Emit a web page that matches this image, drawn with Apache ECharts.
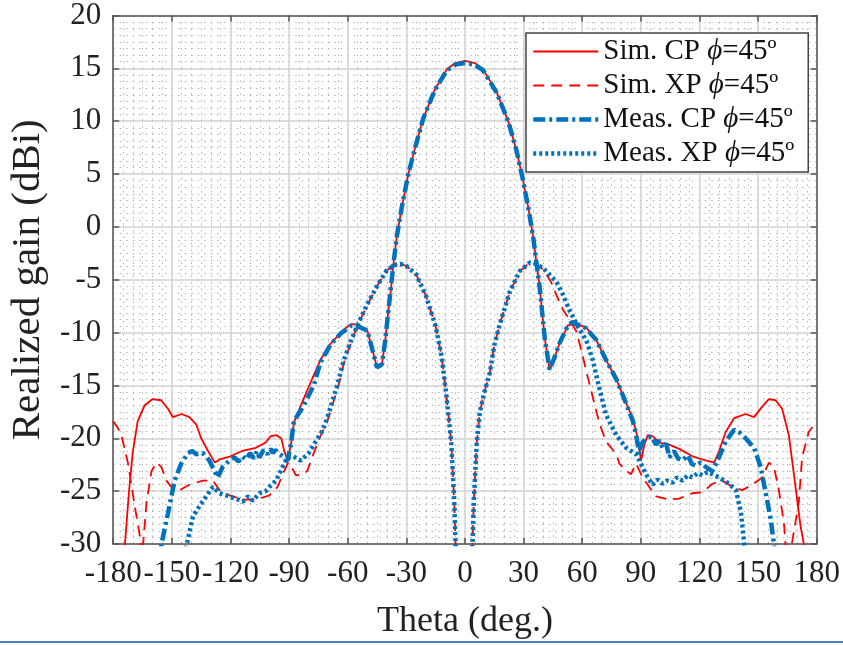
<!DOCTYPE html>
<html>
<head>
<meta charset="utf-8">
<script src="https://cdn.jsdelivr.net/npm/echarts@6/dist/echarts.min.js"></script>
<style>
  html, body { margin: 0; padding: 0; background: #fff; }
  #chart { width: 843px; height: 645px; }
</style>
</head>
<body>
<div id="chart"></div>
<script>
// Sim. CP (red solid)
var simCpTheta = [-180, -176, -174, -172, -170, -167.5, -164, -160, -155.5, -152, -149.5, -145, -141, -137.5, -135, -131.5, -128, -125.5, -120, -114, -107, -102, -99.5, -96.5, -94, -92.5, -90.8, -89, -87.5, -84, -79, -74, -69, -64, -60, -57.5, -54, -50, -47, -45, -42.5, -40.8, -39, -38, -36.5, -34.8, -32.3, -29, -25.5, -21.3, -15.3, -9.3, -5, 0, 5, 9.3, 16.2, 22.1, 26.4, 29.7, 32.3, 34.8, 36.5, 38.2, 40.8, 43.3, 45.5, 48.4, 52.7, 57, 62, 67.2, 72.2, 77.4, 81.6, 85.8, 88.4, 90.1, 91.8, 93.5, 96, 99.4, 104.5, 109.6, 116.4, 123.2, 127.5, 130, 133.4, 137.7, 143.6, 147.9, 152.1, 155.5, 158.9, 162.3, 165.7, 168.3, 171.7, 173.4, 176, 180];
var simCpGain = [-40, -34, -30, -25.2, -21.3, -18.4, -16.9, -16.3, -16.4, -17.2, -18, -17.7, -18, -18.7, -20, -21.2, -22.3, -22, -21.7, -21.2, -20.9, -20.4, -19.8, -19.7, -20, -21.2, -22.1, -20.5, -18.5, -16.9, -14.7, -12.6, -11.1, -10.1, -9.4, -9.2, -9.3, -9.8, -11.9, -13.3, -13, -10.7, -7.6, -6.1, -3.3, -0.8, 1.9, 5.0, 7.5, 10.3, 13.05, 14.9, 15.5, 15.7, 15.5, 14.9, 12.75, 10.0, 7.2, 4.4, 1.9, -0.8, -3.3, -5.7, -10.5, -13.5, -12.6, -11.0, -9.3, -9.2, -9.5, -10.7, -12.6, -14.4, -16.3, -18.1, -20, -22.1, -20.6, -19.7, -19.8, -20.4, -20.6, -21.0, -21.7, -22.1, -22.3, -21.2, -19.4, -18.1, -17.7, -18.0, -17.0, -16.3, -16.4, -17.2, -19.7, -23.4, -28.3, -30, -35, -40];

// Sim. XP (red dashed)
var simXpTheta = [-180, -178, -175.8, -172.4, -169, -166.4, -165.5, -164.7, -163, -160.4, -157.9, -155.4, -152.8, -150.3, -146, -141, -134.2, -129, -125.6, -120.5, -113.7, -106.9, -100.1, -95.9, -92.5, -90.5, -88.5, -86.5, -83, -80.7, -77.4, -74, -70.5, -65, -62, -58.6, -55, -50, -45, -40, -36, -33, -30, -25, -20, -15, -12, -9.3, -7, -5.5, -4.5, 3.5, 4.5, 6, 7.6, 10, 12.7, 15, 17.8, 23, 28, 33, 36, 40, 44, 46.7, 50, 54, 57, 60, 62, 65.4, 68.8, 72.2, 77.4, 79, 82, 85, 87.5, 90.9, 94.3, 97.8, 104.5, 109.6, 116.4, 121.5, 126.6, 131.7, 136.8, 141.9, 147, 152.1, 155.5, 158.1, 160.6, 163.2, 164, 165.5, 167.4, 170.8, 172.5, 175.9, 180];
var simXpGain = [-18.4, -18.9, -19.7, -22.4, -26.4, -29.2, -31, -30, -26.1, -23.1, -22.3, -22.7, -24, -24.6, -24.9, -24.4, -24, -24, -24.9, -25.4, -25.8, -25.8, -25.4, -24.6, -23.1, -22.3, -22.8, -23.5, -23.4, -23.1, -21.4, -19.8, -18.4, -15.2, -12.9, -11.1, -9.3, -7.4, -5.6, -4.1, -3.6, -3.5, -3.7, -4.5, -6.5, -9.4, -12.2, -16.3, -20.5, -26, -32, -32, -26, -20.5, -17.5, -15.6, -13.8, -11.2, -9.2, -6.1, -4.2, -3.4, -3.5, -4.0, -5.2, -6.4, -7.8, -8.9, -9.9, -12, -13.6, -16.1, -18.6, -20.3, -21.5, -22.4, -23.0, -23.4, -22.4, -23.7, -24.6, -25.5, -25.8, -25.7, -25.2, -25.1, -24.3, -24.0, -24.6, -24.9, -24.4, -23.7, -22.3, -22.7, -24.9, -28, -30, -31.5, -29.8, -26.1, -21.8, -19.4, -18.4];

// Meas. CP (blue dash-dot)
var measCpTheta = [-157, -155.3, -152, -148.6, -145.2, -141.8, -139.5, -137.6, -134.2, -130.8, -128.2, -126.5, -124, -120.5, -118, -116, -114, -112, -110, -108, -106.5, -105.2, -103, -101, -99.5, -98.4, -97, -95.5, -93.3, -90.8, -89, -87.6, -82.5, -77.4, -73.9, -69, -63.7, -58, -55, -50, -47, -45, -42.5, -40.8, -39, -36.5, -34.8, -32.3, -29, -25.5, -21.3, -15.3, -9.3, -5, 0, 5, 9.3, 16.2, 22.1, 26.4, 29.7, 32.3, 34.8, 36.5, 38.2, 40.8, 43.3, 45.5, 48.4, 52.7, 55, 57, 59, 62, 67.2, 72.2, 77.4, 81.6, 85.8, 87.5, 89.2, 90.1, 92.6, 95.2, 97.8, 99.5, 101.1, 103, 104.5, 107, 109, 111.3, 114, 116, 118.1, 120.5, 123.2, 126.6, 130, 133.4, 137.7, 140.2, 143.6, 147.9, 151.3, 153.9, 156.4, 158.1, 160];
var measCpGain = [-34, -30, -27.1, -24, -22.4, -21.4, -21.2, -21.5, -21.4, -22.1, -23.1, -23.7, -22.7, -22.1, -21.8, -22.2, -21.7, -22, -21.4, -21.9, -21.2, -21.8, -21.1, -21.5, -21.0, -21.4, -21.1, -21.4, -21.7, -22.1, -20.5, -18.4, -16.9, -15.0, -12.8, -11.2, -10.1, -9.3, -9.4, -9.8, -11.9, -13.3, -13, -10.7, -7.6, -3.3, -0.8, 1.9, 5.0, 7.5, 10.3, 13.0, 14.8, 15.35, 15.5, 15.35, 14.8, 12.7, 10.0, 7.2, 4.4, 1.9, -0.8, -3.3, -5.7, -10.5, -13.5, -12.5, -11.0, -9.3, -9.0, -9.2, -9.3, -9.6, -10.7, -12.6, -14.4, -16.3, -18.3, -19.6, -21.5, -20.6, -20, -19.8, -20.6, -20.2, -20.9, -20.5, -21.8, -21.2, -21.9, -22.1, -21.6, -22.4, -22.6, -22.3, -22.7, -23.1, -21.8, -20.3, -19.2, -19.4, -20, -20.9, -22.7, -25.2, -27.6, -30, -34];

// Meas. XP (blue dotted)
var measXpTheta = [-143.5, -142.3, -139.2, -135.8, -132.4, -129, -125.6, -120.5, -116, -113.7, -111, -108.6, -105.2, -102, -100.1, -96.7, -93.3, -90.8, -88, -84, -80, -77.4, -73, -70.5, -65.4, -62, -58.6, -55, -50, -45, -40, -36, -33, -30, -25, -20, -15, -12, -9.3, -7, -5.5, -4.5, 3.5, 4.5, 6, 7.6, 10, 12.7, 15, 17.8, 23, 28, 33, 36, 40, 46.8, 50.1, 53.5, 55.2, 58, 62, 65.4, 68.8, 72.2, 77.4, 82.5, 87.5, 89.2, 92.6, 96, 98.5, 101.1, 103.5, 106.2, 108.5, 111.3, 114, 116.4, 119, 121.5, 124, 126.6, 130, 135.1, 138.6, 141.2, 142.9, 144];
var measXpGain = [-31, -30, -27.4, -26.4, -25.5, -24.6, -25.2, -25.5, -25.8, -26.0, -25.5, -25.9, -25.2, -25.0, -24.6, -24, -22.7, -21.8, -21.7, -22.1, -21.4, -20.6, -19.3, -18.1, -15.0, -12.6, -10.9, -9.3, -7.3, -5.6, -4.1, -3.6, -3.5, -3.7, -4.5, -6.5, -9.4, -12.2, -16.3, -20.5, -26, -32, -32, -26, -20.5, -17.5, -15.6, -13.8, -11.2, -9.2, -6.1, -4.2, -3.4, -3.5, -3.9, -5.2, -6.4, -7.9, -8.5, -9.5, -10.7, -12.6, -15.3, -17.8, -19.7, -20.9, -21.5, -22.1, -23.4, -24.4, -23.9, -24.3, -24.0, -24.2, -23.7, -24, -23.5, -23.7, -23.3, -23.5, -23.2, -23.4, -23.7, -24.3, -24.9, -27, -30, -32];

var seriesNames = ['Sim. CP', 'Sim. XP', 'Meas. CP', 'Meas. XP'];
var thetaTicks = [-180, -150, -120, -90, -60, -30, 0, 30, 60, 90, 120, 150, 180];
var gainTicks = [-30, -25, -20, -15, -10, -5, 0, 5, 10, 15, 20];

function pairs(xs, ys) {
  var out = [];
  for (var i = 0; i < xs.length; i++) out.push([xs[i], ys[i]]);
  return out;
}

var red = '#ff0000';
var blue = '#0072bd';
var serif = '"Liberation Serif", "Times New Roman", serif';

// line look per series, shared by the plot and the legend
var looks = [
  {color: red, width: 1.8, type: 'solid'},
  {color: red, width: 1.8, type: [11, 7]},
  {color: blue, width: 4.5, type: [12, 4, 3, 4]},
  {color: blue, width: 4.5, type: [3, 3]}
];

var chart = echarts.init(document.getElementById('chart'), null, {renderer: 'canvas'});

var boxAxisX = {
  type: 'value', min: -180, max: 180, interval: 30, position: 'top',
  axisLine: {show: true, onZero: false, lineStyle: {color: '#555', width: 1.5}},
  axisTick: {show: true, inside: true, length: 6, lineStyle: {color: '#555', width: 1.5}},
  axisLabel: {show: false},
  splitLine: {show: false}
};
var boxAxisY = {
  type: 'value', min: -30, max: 20, interval: 5, position: 'right',
  axisLine: {show: true, onZero: false, lineStyle: {color: '#555', width: 1.5}},
  axisTick: {show: true, inside: true, length: 6, lineStyle: {color: '#555', width: 1.5}},
  axisLabel: {show: false},
  splitLine: {show: false}
};

chart.setOption({
  animation: false,
  backgroundColor: '#fff',
  grid: {left: 112, right: 25, top: 15, bottom: 90, containLabel: false},
  legend: {
    orient: 'vertical',
    left: 526,
    top: 33,
    data: seriesNames.map(function (n, i) {
      return {name: n, lineStyle: looks[i]};
    }),
    itemWidth: 65,
    itemHeight: 14,
    itemGap: 5,
    padding: [4, 14, 4, 5],
    backgroundColor: '#fff',
    borderColor: '#444',
    borderWidth: 1.5,
    itemStyle: {opacity: 0},
    z: 10,
    formatter: function (name) {
      return '{t|' + name + ' }{p|ϕ}{t|=45º}';
    },
    textStyle: {
      color: '#111',
      rich: {
        t: {fontFamily: serif, fontSize: 29, lineHeight: 30, color: '#111'},
        p: {fontFamily: serif, fontSize: 29, lineHeight: 30, fontStyle: 'italic', color: '#111'}
      }
    }
  },
  xAxis: [{
    type: 'value', min: -180, max: 180, interval: 30,
    name: 'Theta (deg.)', nameLocation: 'middle', nameGap: 60,
    nameTextStyle: {fontFamily: serif, fontSize: 36, color: '#222'},
    axisLine: {show: true, onZero: false, lineStyle: {color: '#555', width: 1.5}},
    axisTick: {show: true, inside: true, length: 6, lineStyle: {color: '#555', width: 1.5}},
    axisLabel: {
      fontFamily: serif, fontSize: 31, color: '#222', margin: 14,
      formatter: function (v) { return thetaTicks.indexOf(v) >= 0 ? String(v) : ''; }
    },
    splitLine: {show: true, lineStyle: {color: '#d2d2d2', width: 1.5}},
    minorTick: {show: false, splitNumber: 6},
    minorSplitLine: {show: true, lineStyle: {color: '#b3b3b3', width: 1, type: [1.5, 5]}}
  }, boxAxisX],
  yAxis: [{
    type: 'value', min: -30, max: 20, interval: 5,
    name: 'Realized gain (dBi)', nameLocation: 'middle', nameGap: 60,
    nameTextStyle: {fontFamily: serif, fontSize: 41, color: '#222'},
    axisLine: {show: true, onZero: false, lineStyle: {color: '#555', width: 1.5}},
    axisTick: {show: true, inside: true, length: 6, lineStyle: {color: '#555', width: 1.5}},
    axisLabel: {
      fontFamily: serif, fontSize: 31, color: '#222', margin: 12,
      formatter: function (v) { return gainTicks.indexOf(v) >= 0 ? String(v) : ''; }
    },
    splitLine: {show: true, lineStyle: {color: '#d2d2d2', width: 1.5}},
    minorTick: {show: false, splitNumber: 8},
    minorSplitLine: {show: true, lineStyle: {color: '#b3b3b3', width: 1, type: [1.5, 5]}}
  }, boxAxisY],
  graphic: [{
    type: 'line',
    shape: {x1: 0, y1: 642, x2: 843, y2: 642},
    style: {stroke: '#4f81c7', lineWidth: 2}
  }],
  series: [
    {
      name: 'Sim. CP', type: 'line', data: pairs(simCpTheta, simCpGain),
      showSymbol: false, symbol: 'none', clip: true, z: 2,
      lineStyle: looks[0], itemStyle: {color: red}
    },
    {
      name: 'Sim. XP', type: 'line', data: pairs(simXpTheta, simXpGain),
      showSymbol: false, symbol: 'none', clip: true, z: 2,
      lineStyle: looks[1], itemStyle: {color: red}
    },
    {
      name: 'Meas. CP', type: 'line', data: pairs(measCpTheta, measCpGain),
      showSymbol: false, symbol: 'none', clip: true, z: 3,
      lineStyle: looks[2], itemStyle: {color: blue}
    },
    {
      name: 'Meas. XP', type: 'line', data: pairs(measXpTheta, measXpGain),
      showSymbol: false, symbol: 'none', clip: true, z: 3,
      lineStyle: looks[3], itemStyle: {color: blue}
    }
  ]
});
</script>
</body>
</html>
